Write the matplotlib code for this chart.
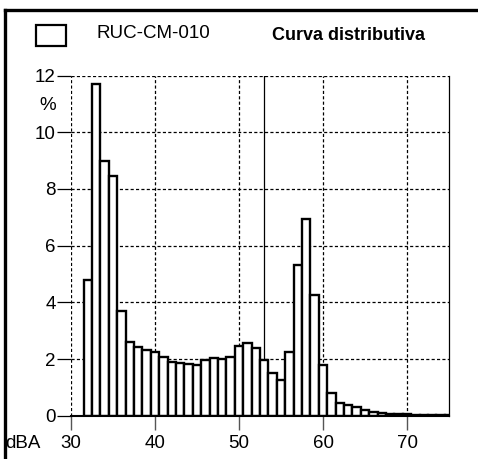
import matplotlib
matplotlib.use("Agg")
import matplotlib.pyplot as plt
from matplotlib.patches import Rectangle
from matplotlib.lines import Line2D

plt.rcParams['font.family'] = ['Liberation Sans', 'DejaVu Sans']

# Data: level (dBA) bins and percentage
levels = list(range(32, 76))
percent = [4.8, 11.7, 9.0, 8.45, 3.7, 2.61, 2.43, 2.32, 2.25, 2.08,
           1.90, 1.86, 1.81, 1.78, 1.96, 2.02, 2.01, 2.06, 2.45, 2.56,
           2.38, 1.95, 1.52, 1.27, 2.24, 5.32, 6.93, 4.25, 1.80, 0.79,
           0.46, 0.37, 0.29, 0.20, 0.14, 0.10, 0.07, 0.06, 0.05, 0.04,
           0.03, 0.03, 0.02, 0.02]
marker_level = 53.0
x_ticks = [30, 40, 50, 60, 70]
y_ticks = [0, 2, 4, 6, 8, 10, 12]
legend_label = "RUC-CM-010"
title = "Curva distributiva"

W, H = 478, 459
fig = plt.figure(figsize=(W / 100, H / 100), dpi=100)
ax = fig.add_axes([71 / W, 1 - 415.7 / H, (449 - 71) / W, (415.7 - 75.5) / H])

ax.bar(levels, percent, width=1.0, facecolor='white', edgecolor='black',
       linewidth=1.7, zorder=3)
ax.axvline(marker_level, color='black', linewidth=0.9, zorder=2)

ax.set_xlim(30, 75)
ax.set_ylim(0, 12)
ax.set_xticks(x_ticks)
ax.set_yticks(y_ticks)
ax.grid(True, color='black', linestyle=(0, (2.5, 1.8)), linewidth=0.9, zorder=1)

for s in ['left', 'top']:
    ax.spines[s].set_visible(False)
ax.spines['bottom'].set_linewidth(1.5)
ax.spines['bottom'].set_zorder(4)
ax.spines['right'].set_linewidth(0.9)

ax.tick_params(axis='y', direction='out', length=10, width=0.9, pad=1,
               labelsize=13.5, color='black')
ax.tick_params(axis='x', direction='out', length=10, width=1.0, pad=4,
               labelsize=13.5, color='#555555')

# Text labels
fig.text(47.5 / W, 1 - 105 / H, "%", ha='center', va='center', fontsize=13.5)
fig.text(5 / W, 1 - 443 / H, "dBA", ha='left', va='center', fontsize=13.5)
fig.text(97 / W, 1 - 34 / H, legend_label, ha='left', va='center', fontsize=13.5)
fig.text(272 / W, 1 - 35 / H, title, ha='left', va='center', fontsize=13,
         fontweight='bold')

# Legend box
fig.patches.append(Rectangle((36 / W, 1 - 45.5 / H), 29.5 / W, 20 / H,
                             transform=fig.transFigure, facecolor='white',
                             edgecolor='black', linewidth=1.6))

# Outer frame (left and top)
fig.lines.append(Line2D([5 / W, 5 / W], [0, 1 - 10 / H], transform=fig.transFigure,
                        color='black', linewidth=2.4))
fig.lines.append(Line2D([5 / W, 1], [1 - 10 / H, 1 - 10 / H], transform=fig.transFigure,
                        color='black', linewidth=2.4))

fig.savefig("out.png", dpi=100)
